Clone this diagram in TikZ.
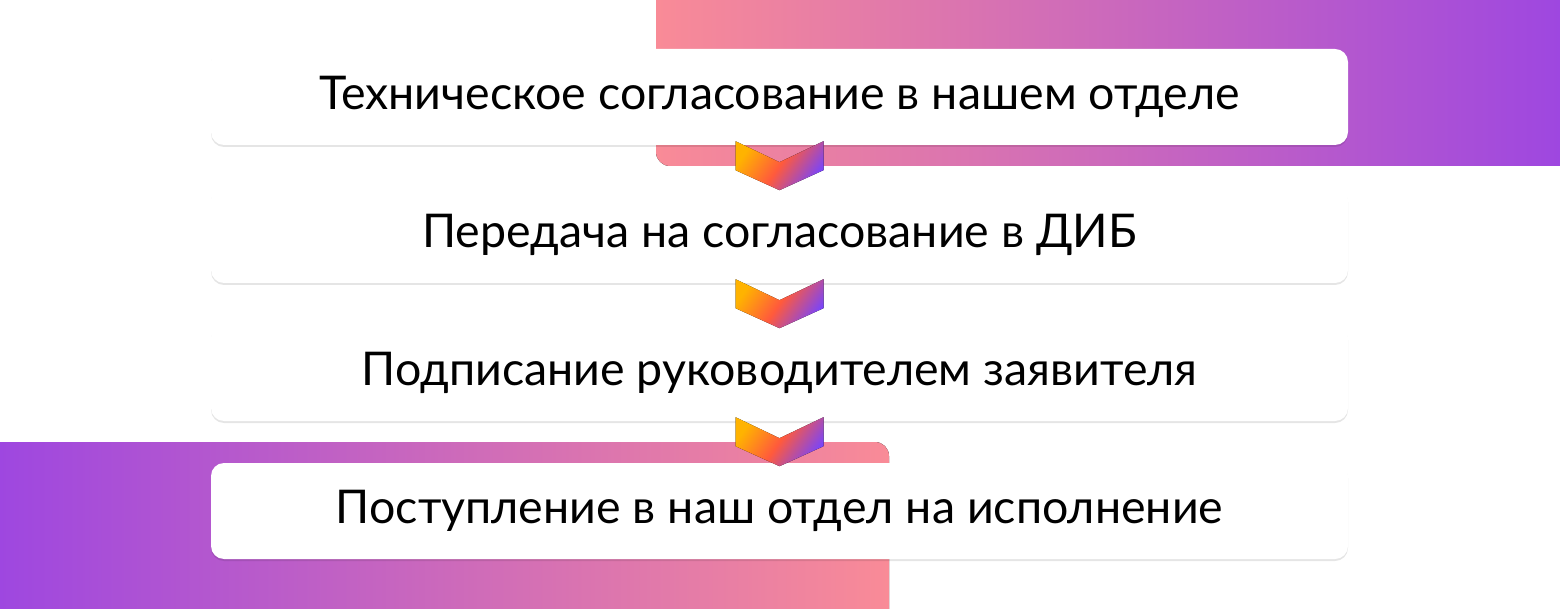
\documentclass[tikz,border=0pt]{standalone}
\usepackage{fontspec}
\setmainfont{Lato}
\usetikzlibrary{calc,shadows}
\definecolor{gpink}{HTML}{F98B97}
\definecolor{gpurple}{HTML}{9A44E3}
\definecolor{cyel}{HTML}{FFB300}
\definecolor{cred}{HTML}{FF5A3C}
\definecolor{cpur}{HTML}{7C45F6}
\tikzset{
  stepbox/.style={fill=white, rounded corners=13pt, minimum width=1137pt, minimum height=96pt,
    inner sep=0pt, font=\fontsize{46.5}{54}\selectfont, text=black,
    drop shadow={shadow xshift=0pt, shadow yshift=-2pt, opacity=0.10, fill=black}},
  chev/.style={left color=cyel, right color=cpur, middle color=cred, shading angle=55}
}
\newcommand{\chevron}[1]{%
  \fill[chev] ($(#1.south)+(-44,-4)$) -- ($(#1.south)+(0,17)$) -- ($(#1.south)+(44,-4)$)
    -- ($(#1.south)+(44,25)$) -- ($(#1.south)+(0,45)$) -- ($(#1.south)+(-44,25)$) -- cycle;}
\begin{document}
\begin{tikzpicture}[x=1pt,y=-1pt]
\useasboundingbox (0,0) rectangle (1560,609);
\begin{scope}
  \clip (0,0) rectangle (1560,609);
  \fill[left color=gpink, right color=gpurple, rounded corners=14pt] (656,-40) rectangle (1600,166);
  \fill[left color=gpurple, right color=gpink, rounded corners=14pt] (-40,442) rectangle (889,650);
\end{scope}
\node[stepbox] (b1) at (779.5,97) {Техническое согласование в нашем отделе};
\node[stepbox] (b2) at (779.5,235) {Передача на согласование в ДИБ};
\node[stepbox] (b3) at (779.5,373) {Подписание руководителем заявителя};
\node[stepbox] (b4) at (779.5,511) {Поступление в наш отдел на исполнение};
\chevron{b1}
\chevron{b2}
\chevron{b3}
\end{tikzpicture}
\end{document}
